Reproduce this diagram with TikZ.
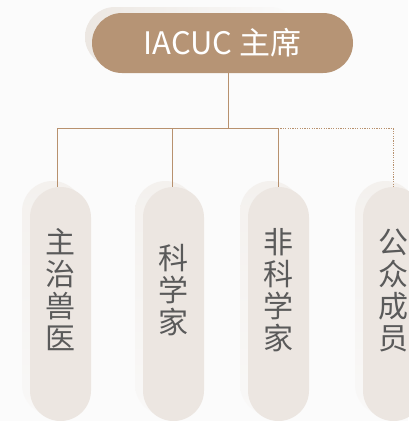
\documentclass[tikz,border=0pt]{standalone}
\usepackage{fontspec}
\setmainfont{Noto Sans CJK SC}
\definecolor{bgc}{HTML}{FBFBFB}
\definecolor{brown}{HTML}{B69475}
\definecolor{lineb}{HTML}{B8916E}
\definecolor{pillc}{HTML}{ECE6E1}
\definecolor{shadc}{HTML}{F4F1EE}
\definecolor{shadtop}{HTML}{ECE7E2}
\definecolor{txtc}{HTML}{5A5A5A}
\begin{document}
\begin{tikzpicture}[x=1pt,y=-1pt,
  toppill/.style={rectangle,rounded corners=30pt,fill=brown,minimum width=261pt,minimum height=60pt,inner sep=0pt,text=white,font=\fontsize{31}{32}\selectfont},
  botpill/.style={rectangle,rounded corners=30.5pt,fill=pillc,minimum width=61pt,minimum height=234pt,inner sep=0pt},
  bottext/.style={align=center,inner sep=0pt,text=txtc,font=\fontsize{30}{32}\selectfont},
  conn/.style={draw=lineb,line width=0.9pt},
  dotconn/.style={draw=lineb,line width=0.9pt,dash pattern=on 1.2pt off 1.2pt}
]
\useasboundingbox (0,0) rectangle (408,421);
\fill[bgc] (0,0) rectangle (408,421);
% shadows
\path[left color=shadtop,right color=bgc,rounded corners=30pt] (85,7) rectangle (300,67);
\foreach \x in {22,135,240,355}{
  \path[top color=shadc,bottom color=bgc!70!shadc,rounded corners=30.5pt] (\x,181) rectangle ({\x+61},415);
}
% nodes
\node[toppill] (chair) at (222.5,43) {IACUC 主席};
\node[botpill] (vet) at (60.5,304) {};
\node[botpill] (sci) at (173.5,304) {};
\node[botpill] (nonsci) at (278.5,304) {};
\node[botpill] (public) at (393.5,304) {};
\node[bottext] (vett) at (60.5,290) {主\\治\\兽\\医};
\node[bottext] (scit) at (173.5,290) {科\\学\\家};
\node[bottext] (nonscit) at (278.5,290) {非\\科\\学\\家};
\node[bottext] (publict) at (393.5,290) {公\\众\\成\\员};
% connectors
\coordinate (top) at ([xshift=5.5pt]chair.south);
\coordinate (j) at ([yshift=-55pt]top);
\coordinate (a) at ([xshift=-3.5pt]vet.north);
\coordinate (b) at ([xshift=-1.5pt]sci.north);
\coordinate (c) at ([xshift=-0.5pt]nonsci.north);
\coordinate (d) at ([xshift=-0.5pt]public.north);
\draw[conn] (top) -- (j);
\draw[conn] (a) -- (a |- j) -- (c |- j) -- (c);
\draw[conn] (b) -- (b |- j);
\draw[dotconn] (c |- j) -| (d);
\end{tikzpicture}
\end{document}
